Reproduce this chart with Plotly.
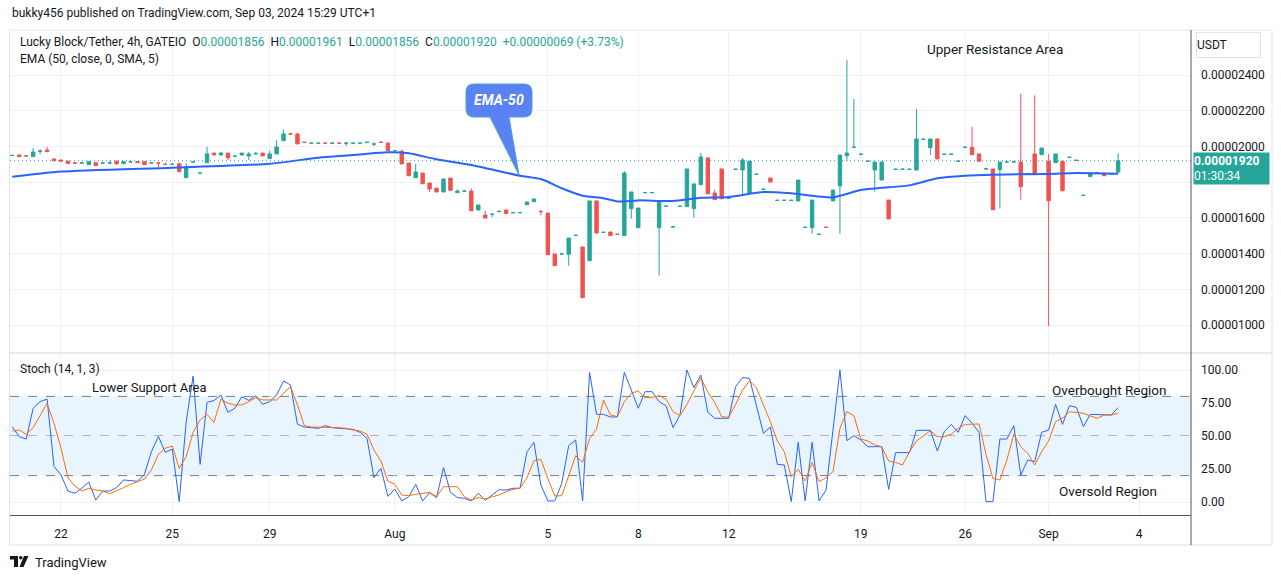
import plotly.graph_objects as go
import numpy as np

# ---------------- data (prices in units of 1e-6 USDT) ----------------
UNIT = 1e-6
opens = [19.495, 19.52, 19.475, 19.43, 19.72, 19.80, 19.30, 19.24, 19.18, 19.075,
         19.07, 18.98, 19.09, 19.07, 19.07, 19.18, 19.03, 19.13, 19.15, 19.15,
         19.07, 19.075, 18.995, 18.99, 19.03, 18.25, 19.13, 18.50, 19.09, 19.63,
         19.52, 19.63, 19.45, 19.52, 19.47, 19.59, 19.63, 19.32, 19.58, 20.32,
         20.705, 20.70, 20.235, 20.18, 20.18, 20.185, 20.18, 20.185, 20.18, 20.18,
         20.18, 20.23, 20.13, 20.235, 20.18, 19.76, 19.73, 19.07, 18.25, 18.51,
         17.95, 17.67, 17.45, 18.23, 17.41, 17.50, 17.50, 16.44, 16.16, 16.20,
         16.35, 16.44, 16.29, 16.29, 16.74, 16.91, 16.355, 16.27, 13.98, 13.98,
         13.96, 15.02, 14.37, 13.60, 16.95, 15.19, 15.21, 15.085, 15.01, 16.52,
         15.45, 17.41, 17.41, 15.45, 16.65, 15.49, 16.65, 16.63, 16.52, 17.86,
         19.35, 17.39, 18.74, 17.10, 18.72, 18.68, 17.39, 18.44, 17.60, 18.23,
         16.98, 16.98, 16.98, 16.95, 15.47, 15.45, 15.08, 15.475, 16.95, 17.79,
         19.48, 19.95, 19.56, 19.17, 18.68, 18.12, 17.00, 18.72, 18.72, 18.72,
         18.68, 20.40, 19.93, 20.42, 19.56, 19.56, 19.17, 19.95, 19.95, 19.58,
         18.74, 18.74, 18.70, 19.13, 19.13, 19.13, 18.47, 19.58, 19.54, 19.17,
         19.09, 19.17, 19.39, 19.22, 17.26, 18.31, 18.53, 18.50, 18.46, 18.56]
highs = [19.52, 19.53, 19.48, 19.91, 19.84, 19.97, 19.30, 19.24, 19.18, 19.075,
         19.075, 19.15, 19.09, 19.075, 19.20, 19.18, 19.15, 19.135, 19.15, 19.15,
         19.075, 19.075, 19.10, 19.07, 19.10, 19.07, 19.135, 18.505, 19.97, 19.63,
         19.69, 19.63, 19.455, 19.63, 19.69, 19.69, 19.63, 19.75, 20.35, 20.95,
         20.76, 20.76, 20.235, 20.185, 20.185, 20.185, 20.185, 20.185, 20.25, 20.185,
         20.185, 20.235, 20.23, 20.235, 20.25, 19.765, 19.82, 19.07, 19.02, 18.51,
         17.95, 17.67, 18.18, 18.23, 17.60, 17.56, 17.65, 16.72, 16.40, 16.205,
         16.44, 16.44, 16.295, 16.295, 16.89, 17.06, 16.44, 16.27, 13.98, 13.985,
         14.87, 15.025, 14.37, 16.95, 16.95, 15.195, 15.21, 15.085, 18.62, 17.45,
         16.55, 17.415, 17.415, 16.89, 16.655, 15.495, 16.655, 18.74, 17.90, 19.64,
         19.41, 17.58, 18.74, 17.105, 18.725, 19.35, 19.18, 18.445, 17.605, 18.23,
         16.985, 16.985, 16.985, 18.12, 15.475, 17.00, 15.085, 15.475, 17.56, 19.52,
         24.84, 22.66, 19.565, 19.175, 19.13, 19.13, 17.00, 18.725, 18.725, 18.725,
         22.10, 20.405, 20.42, 20.42, 19.565, 19.565, 19.175, 19.955, 21.09, 19.58,
         18.745, 18.74, 19.13, 19.135, 19.135, 22.95, 18.475, 22.86, 19.91, 19.58,
         19.58, 19.17, 19.395, 19.225, 17.265, 18.50, 18.535, 18.50, 18.465, 19.61]
lows = [19.48, 19.42, 19.46, 19.43, 19.56, 19.71, 19.20, 19.18, 19.00, 19.07,
        19.07, 18.98, 18.92, 19.07, 19.07, 18.97, 19.03, 19.13, 19.10, 18.98,
        19.07, 18.83, 18.99, 18.99, 18.59, 18.25, 19.13, 18.50, 19.09, 19.52,
        19.52, 19.24, 19.45, 19.52, 19.24, 19.52, 19.47, 19.32, 19.58, 20.32,
        20.64, 20.14, 20.23, 20.18, 20.18, 20.18, 20.18, 20.18, 20.02, 20.18,
        20.18, 20.23, 20.02, 20.23, 19.77, 19.76, 19.02, 18.36, 18.25, 17.91,
        17.45, 17.45, 17.45, 17.50, 17.41, 17.50, 16.40, 16.44, 15.99, 16.05,
        16.35, 16.24, 16.29, 16.29, 16.74, 16.91, 16.14, 13.94, 13.32, 13.98,
        13.32, 15.02, 11.53, 13.60, 15.15, 15.19, 15.01, 15.08, 15.01, 15.95,
        15.45, 17.41, 17.41, 12.76, 16.65, 15.49, 16.65, 16.63, 16.01, 17.86,
        17.35, 17.02, 17.07, 17.10, 18.72, 17.33, 17.39, 18.44, 17.60, 18.01,
        16.98, 16.98, 16.98, 16.95, 15.47, 15.11, 15.08, 15.47, 16.95, 15.11,
        19.18, 19.95, 19.56, 19.17, 17.47, 18.12, 15.94, 18.72, 18.72, 18.72,
        18.68, 20.40, 19.52, 19.30, 19.56, 19.56, 19.17, 19.95, 19.54, 19.17,
        18.74, 16.46, 16.52, 19.13, 19.13, 17.02, 18.47, 18.42, 19.54, 9.95,
        19.09, 17.52, 19.39, 19.22, 17.26, 18.31, 18.53, 18.36, 18.46, 18.56]
closes = [19.50, 19.43, 19.47, 19.69, 19.74, 19.71, 19.20, 19.18, 19.05, 19.07,
          19.075, 19.15, 18.92, 19.075, 19.075, 19.03, 19.15, 19.135, 19.10, 18.98,
          19.075, 19.07, 18.99, 18.995, 18.59, 18.81, 19.135, 18.505, 19.58, 19.52,
          19.63, 19.37, 19.455, 19.63, 19.58, 19.61, 19.47, 19.58, 19.97, 20.70,
          20.70, 20.14, 20.23, 20.185, 20.185, 20.18, 20.185, 20.18, 20.185, 20.185,
          20.185, 20.235, 20.135, 20.23, 19.77, 19.765, 19.02, 18.36, 18.57, 17.91,
          17.62, 17.45, 18.18, 17.55, 17.50, 17.505, 16.40, 16.72, 15.99, 16.205,
          16.355, 16.24, 16.295, 16.295, 16.89, 17.06, 16.35, 13.94, 13.32, 13.985,
          14.87, 15.025, 11.53, 16.95, 15.15, 15.195, 15.01, 15.08, 18.51, 17.45,
          16.55, 17.415, 17.415, 16.89, 16.655, 15.495, 16.655, 18.74, 17.90, 19.41,
          17.35, 17.02, 17.07, 17.105, 18.725, 19.24, 19.18, 18.445, 17.605, 18.01,
          16.985, 16.985, 16.985, 18.12, 15.475, 17.00, 15.085, 15.47, 17.56, 19.52,
          19.63, 19.955, 19.565, 19.175, 19.13, 19.13, 15.94, 18.725, 18.725, 18.725,
          20.42, 20.405, 20.42, 19.30, 19.565, 19.565, 19.175, 19.955, 19.54, 19.17,
          18.745, 16.46, 19.13, 19.135, 19.135, 17.75, 18.475, 18.42, 19.91, 16.96,
          19.58, 17.52, 19.395, 19.225, 17.265, 18.50, 18.535, 18.36, 18.465, 19.20]

# EMA(50) read at sampled bars
ema_bars = [0, 7, 23, 37, 44, 50, 54, 57, 61, 66, 73, 76, 79, 82, 85, 87, 90, 95,
            99, 103, 108, 112, 118, 122, 126, 129, 133, 137, 141, 149, 153, 159]
ema_vals = [18.30, 18.59, 18.81, 19.03, 19.37, 19.55, 19.67, 19.62, 19.28, 18.96,
            18.36, 18.18, 17.66, 17.24, 17.10, 16.92, 16.98, 16.95, 17.13, 17.17,
            17.45, 17.38, 17.15, 17.56, 17.71, 17.82, 18.22, 18.36, 18.42, 18.46,
            18.51, 18.47]

stoch_k = [57, 49.5, 47.7, 71, 76, 78, 26.8, 20.5, 8.3, 6.6,
           10.4, 15.2, 1.5, 8.3, 8.3, 10.9, 16.7, 16.4, 15.7, 21,
           38, 49.7, 37.6, 40.1, 0.3, 60.8, 95.5, 28.5, 75.5, 76.8,
           81, 68, 71, 79.8, 77, 80.5, 74, 76, 81, 91.7,
           88.6, 58.9, 56.8, 56.3, 55.8, 57.8, 56.3, 55.8, 55.3, 55,
           52.8, 48.2, 18.4, 25.5, 4.3, 9.8, 0.8, 4, 13.4, 0.8,
           7.1, 3.3, 26, 7.3, 3.3, 2.8, 0.8, 6.6, 1.3, 5.3,
           9.3, 9.1, 10.4, 10.4, 38, 45.2, 12.9, 0.8, 0.8, 14.1,
           42.7, 47, 0.8, 98.2, 66.4, 66.4, 64.4, 64.4, 98.2, 84.8,
           71, 83.6, 83.6, 76, 73, 56.3, 65.9, 100, 86.6, 96.2,
           68, 63.4, 63.4, 63.4, 87.4, 94.2, 93.7, 73.5, 52, 56.8,
           28.5, 28, 0.3, 45.2, 0.8, 45.2, 0.8, 9.1, 55.8, 100,
           46.5, 50.2, 47, 41.9, 41.9, 41.9, 9.6, 37.4, 37.4, 37.4,
           54.3, 54.3, 54.3, 38.6, 53.3, 58.8, 52.8, 65.4, 59.6, 52.8,
           0.3, 0.3, 47.7, 47.7, 57.8, 20.5, 31.8, 30.6, 52.8, 54.5,
           74, 58.8, 73, 71.7, 57.1, 66.4, 66.4, 65.9, 65.9, 71.5]
stoch_d = [53.8, 54.5, 51.3, 56.3, 65.4, 74.8, 59.6, 40.7, 18.4, 12.1,
           8.3, 10.4, 9.1, 8.3, 6.3, 8.3, 10.9, 13.4, 15.7, 17.4,
           24.2, 36.1, 40.7, 42.4, 25.5, 34.3, 52.8, 62.1, 66.4, 60.4,
           78, 74.8, 73.5, 73.5, 76, 79, 77.3, 77.3, 77.3, 82.3,
           87.4, 73.5, 57.8, 56.8, 56.8, 56.8, 56.3, 56.3, 55.8, 54.5,
           53.8, 51.3, 39.4, 31.1, 15.9, 13.4, 5.3, 4.8, 5.8, 6.6,
           7.3, 4.0, 11.6, 11.6, 11.6, 4.0, 1.5, 3.3, 2.3, 4.0,
           5.3, 7.8, 9.6, 10.4, 18.4, 31.3, 32.3, 17.9, 4.5, 4.8,
           19.9, 35.1, 30.0, 48.2, 55.3, 77.3, 65.9, 64.7, 76.0, 82.4,
           84.1, 79.0, 79.3, 80.6, 77.8, 68.4, 65.4, 74.0, 84.1, 94.2,
           83.1, 75.5, 64.7, 64.1, 74.0, 84.8, 91.7, 86.6, 73.5, 60.9,
           46.2, 38.1, 19.2, 24.7, 15.9, 30.0, 15.4, 18.4, 23.0, 55.8,
           68.4, 65.4, 47.7, 46.2, 43.2, 41.9, 31.1, 30.0, 28.0, 38.1,
           46.2, 50.0, 54.0, 49.5, 49.5, 51.3, 55.8, 58.8, 59.1, 59.1,
           36.0, 17.9, 16.7, 31.8, 51.3, 41.9, 36.9, 28.0, 38.1, 46.2,
           60.9, 63.4, 68.4, 67.9, 67.2, 65.2, 63.4, 65.9, 65.9, 67.2]

tick_bars = [7, 23, 37, 55, 77, 90, 103, 122, 137, 149, 162]
tick_labels = ["22", "25", "29", "Aug", "5", "8", "12", "19", "26", "Sep", "4"]
price_ticks = [10, 12, 14, 16, 18, 20, 22, 24]
# the 18 label sits under the last-price marker in the reference
price_tick_text = ["0.00001000", "0.00001200", "0.00001400", "0.00001600", "",
                   "0.00002000", "0.00002200", "0.00002400"]
stoch_ticks = [0, 25, 50, 75, 100]
last_price = 19.20

# ---------------- layout helpers ----------------
W, H = 1281, 579
L_PX, R_PX, T_PX, B_PX = 10, 1191, 30, 515
FONT = "Roboto"
TXT = "#131722"
TEAL, RED = "#26a69a", "#ef5350"


def px(x):
    return (x - L_PX) / (R_PX - L_PX)


def py(y):
    return (B_PX - y) / (B_PX - T_PX)


bars = np.arange(len(opens))
o = np.array(opens) * UNIT
h = np.array(highs) * UNIT
l = np.array(lows) * UNIT
c = np.array(closes) * UNIT

fig = go.Figure()
fig.add_trace(go.Candlestick(
    x=bars, open=o, high=h, low=l, close=c, xaxis="x", yaxis="y",
    increasing=dict(line=dict(color=TEAL, width=1), fillcolor=TEAL),
    decreasing=dict(line=dict(color=RED, width=1), fillcolor=RED),
    whiskerwidth=0, hoverinfo="skip"))
fig.add_trace(go.Scatter(
    x=ema_bars, y=np.array(ema_vals) * UNIT, mode="lines", xaxis="x", yaxis="y",
    line=dict(color="#2962ff", width=2, shape="spline", smoothing=0.6),
    hoverinfo="skip"))
fig.add_trace(go.Scatter(
    x=bars, y=stoch_k, mode="lines", xaxis="x2", yaxis="y2",
    line=dict(color="#2962ff", width=1), hoverinfo="skip"))
fig.add_trace(go.Scatter(
    x=bars, y=stoch_d, mode="lines", xaxis="x2", yaxis="y2",
    line=dict(color="#ff6d00", width=1), hoverinfo="skip"))

xr = [(L_PX - 12.3) / 6.955, (R_PX - 12.3) / 6.955]
p_top = 24 + (75 - T_PX) / 17.86
p_bot = 24 - (352 - 75) / 17.86
s_top = (502 - 354) / 1.32
s_bot = (502 - B_PX) / 1.32
GRID = "#eef1f6"

fig.update_layout(
    width=W, height=H, showlegend=False, hovermode=False,
    margin=dict(l=L_PX, r=W - R_PX, t=T_PX, b=H - B_PX),
    paper_bgcolor="white", plot_bgcolor="white",
    font=dict(family=FONT, size=12, color=TXT),
    xaxis=dict(domain=[0, 1], anchor="y", range=xr, tickvals=tick_bars,
               showticklabels=False, showgrid=True, gridcolor=GRID,
               zeroline=False, rangeslider=dict(visible=False), fixedrange=True),
    xaxis2=dict(domain=[0, 1], anchor="y2", range=xr, matches="x",
                tickvals=tick_bars, ticktext=tick_labels, showgrid=True,
                gridcolor=GRID, zeroline=False, showline=True,
                linecolor="#50535e", linewidth=1, ticks="", ticklabelstandoff=8,
                tickfont=dict(size=12, color=TXT),
                rangeslider=dict(visible=False)),
    yaxis=dict(domain=[(B_PX - 352) / (B_PX - T_PX), 1], anchor="x",
               range=[p_bot * UNIT, p_top * UNIT], side="right",
               tickvals=[v * UNIT for v in price_ticks], ticktext=price_tick_text,
               showgrid=True, gridcolor=GRID, zeroline=False, ticks="",
               ticklabelstandoff=9, tickfont=dict(size=12, color=TXT)),
    yaxis2=dict(domain=[0, (B_PX - 354) / (B_PX - T_PX)], anchor="x2",
                range=[s_bot, s_top], side="right", tickvals=stoch_ticks,
                tickformat=".2f", showgrid=True, gridcolor=GRID,
                zeroline=False, ticks="", ticklabelstandoff=9,
                tickfont=dict(size=12, color=TXT)),
)

shapes = []
# stoch band and levels
shapes.append(dict(type="rect", xref="paper", yref="y2", x0=0, x1=1, y0=20, y1=80,
                   fillcolor="rgba(33,150,243,0.1)", line=dict(width=0), layer="below"))
for lv in (80, 50, 20):
    shapes.append(dict(type="line", xref="paper", yref="y2", x0=0, x1=1, y0=lv, y1=lv,
                       line=dict(color="#787b86", width=1, dash="dash"), layer="below"))
# last price dotted line
shapes.append(dict(type="line", xref="paper", yref="y", x0=0, x1=1,
                   y0=last_price * UNIT, y1=last_price * UNIT,
                   line=dict(color=TEAL, width=1, dash="1px,3px")))
# pane separator, frame, right axis line
shapes.append(dict(type="line", xref="paper", yref="paper", x0=px(L_PX), x1=px(1272),
                   y0=py(353), y1=py(353), line=dict(color="#d1d4dc", width=1)))
shapes.append(dict(type="rect", xref="paper", yref="paper", x0=px(9.5), x1=px(1272),
                   y0=py(30), y1=py(545), line=dict(color="#e0e3eb", width=1)))
shapes.append(dict(type="line", xref="paper", yref="paper", x0=px(R_PX), x1=px(R_PX),
                   y0=py(30), y1=py(545), line=dict(color="#50535e", width=1)))

# EMA-50 callout (rounded box with pointer)
bx0, bx1, by0, by1, r = 466, 532, 84, 117, 8
tip = (519, 175)
pts = [
    f"M{px(bx0 + r)},{py(by0)}", f"L{px(bx1 - r)},{py(by0)}",
    f"Q{px(bx1)},{py(by0)} {px(bx1)},{py(by0 + r)}",
    f"L{px(bx1)},{py(by1 - r)}", f"Q{px(bx1)},{py(by1)} {px(bx1 - r)},{py(by1)}",
    f"L{px(509)},{py(by1)}", f"L{px(tip[0])},{py(tip[1])}", f"L{px(490)},{py(by1)}",
    f"L{px(bx0 + r)},{py(by1)}", f"Q{px(bx0)},{py(by1)} {px(bx0)},{py(by1 - r)}",
    f"L{px(bx0)},{py(by0 + r)}", f"Q{px(bx0)},{py(by0)} {px(bx0 + r)},{py(by0)}", "Z"]
shapes.append(dict(type="path", xref="paper", yref="paper", path=" ".join(pts),
                   fillcolor="#5b82f2", line=dict(color="#4a9fd8", width=1)))

# TradingView logo
shapes.append(dict(type="rect", xref="paper", yref="paper", x0=px(10), x1=px(18),
                   y0=py(556), y1=py(559.5), fillcolor=TXT, line=dict(width=0)))
shapes.append(dict(type="rect", xref="paper", yref="paper", x0=px(14), x1=px(18),
                   y0=py(556), y1=py(567), fillcolor=TXT, line=dict(width=0)))
shapes.append(dict(type="circle", xref="paper", yref="paper", x0=px(19), x1=px(22.5),
                   y0=py(556), y1=py(559.5), fillcolor=TXT, line=dict(width=0)))
shapes.append(dict(type="path", xref="paper", yref="paper",
                   path=f"M{px(24)},{py(556)} L{px(28.5)},{py(556)} L{px(23.5)},{py(567)} L{px(19.5)},{py(567)} Z",
                   fillcolor=TXT, line=dict(width=0)))
fig.update_layout(shapes=shapes)

ann = []


def text(x, y, s, size=12, color=TXT, xanchor="left", **kw):
    ann.append(dict(xref="paper", yref="paper", x=px(x), y=py(y), text=s,
                    showarrow=False, xanchor=xanchor, yanchor="middle",
                    font=dict(family=FONT, size=size, color=color), **kw))


NB = "\u00a0"
text(10, 13, "bukky456 published on TradingView.com, Sep 03, 2024 15:29 UTC+1")


def g(v):
    return f"<span style='color:{TEAL}'>{v}</span>"


legend = (f"Lucky Block/Tether, 4h, GATEIO{NB}{NB}O{g('0.00001856')}{NB}{NB}"
          f"H{g('0.00001961')}{NB}{NB}L{g('0.00001856')}{NB}{NB}C{g('0.00001920')}"
          f"{NB}{NB}{g('+0.00000069 (+3.73%)')}")
text(18, 42, legend)
text(18, 59, "EMA (50, close, 0, SMA, 5)")
text(18, 369, "Stoch (14, 1, 3)")
text(90, 387, "Lower Support Area", size=13)
text(925, 49, "Upper Resistance Area", size=13.5)
text(1050, 390, "Overbought Region", size=13.5)
text(1057, 491, "Oversold Region", size=13.5)
text(499, 100, "<b><i>EMA-50</i></b>", size=14, color="white", xanchor="center")
text(33, 562, "TradingView", size=13)

# USDT box
ann.append(dict(xref="paper", yref="paper", x=px(1196), y=py(32), xanchor="left",
                yanchor="top", text="USDT", showarrow=False, align="left",
                width=63, height=24, borderpad=0, bgcolor="white",
                bordercolor="#e0e3eb", borderwidth=1,
                font=dict(family=FONT, size=12, color=TXT)))
# last price label
ann.append(dict(xref="paper", yref="paper", x=px(1193), y=py(152), xanchor="left",
                yanchor="top", text="<b>0.00001920</b><br>01:30:34", showarrow=False,
                align="left", width=75, height=31, borderpad=0, bgcolor=TEAL,
                font=dict(family=FONT, size=12, color="white")))
fig.update_layout(annotations=ann)

fig.write_html("out.html")
